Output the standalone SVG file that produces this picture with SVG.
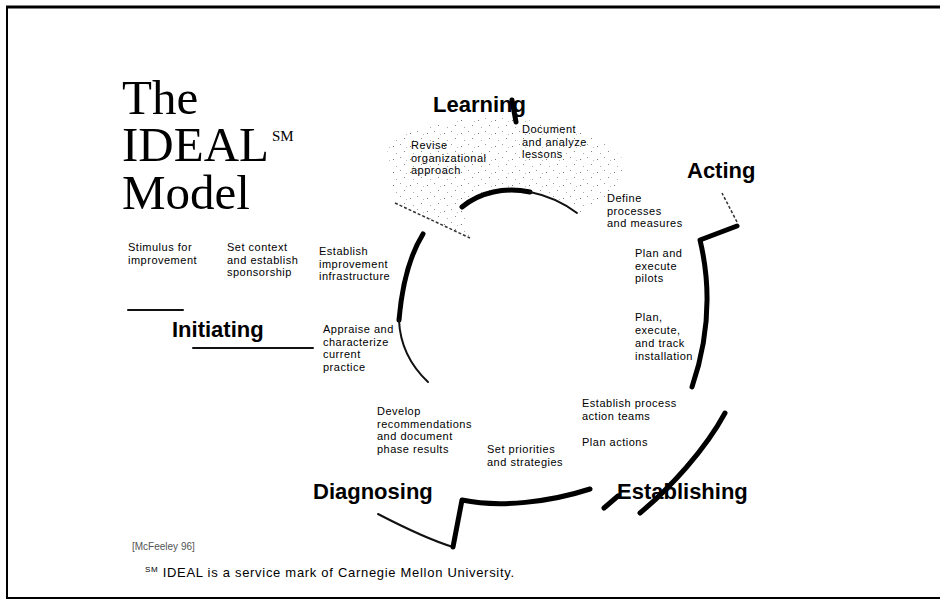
<svg xmlns="http://www.w3.org/2000/svg" width="940" height="608" viewBox="0 0 940 608">
<defs>
<pattern id="stip" width="17" height="13" patternUnits="userSpaceOnUse">
<rect x="2" y="3" width="1" height="1" fill="#777"/>
<rect x="9" y="1" width="1" height="1" fill="#999"/>
<rect x="13" y="8" width="1" height="1" fill="#888"/>
<rect x="5" y="10" width="1" height="1" fill="#aaa"/>
<rect x="15" y="4" width="1" height="1" fill="#bbb"/>
</pattern>
</defs>
<style>
.serif{font-family:"Liberation Serif","Times New Roman",serif;fill:#000}
.lbl{font-family:"Liberation Sans",Arial,sans-serif;font-size:11px;letter-spacing:0.5px;fill:#000}
.cite{font-family:"Liberation Sans",Arial,sans-serif;font-size:10px;fill:#555}
.foot{font-family:"Liberation Sans",Arial,sans-serif;font-size:13px;letter-spacing:0.7px;fill:#000}
.ph{font-family:"Liberation Sans",Arial,sans-serif;font-size:22px;font-weight:bold;fill:#000}
.thick{fill:none;stroke:#000;stroke-width:5;stroke-linecap:round;stroke-linejoin:round}
.thin{fill:none;stroke:#111;stroke-width:2;stroke-linecap:round}
.dash{fill:none;stroke:#333;stroke-width:1.5;stroke-dasharray:3 2}
</style>
<rect width="940" height="608" fill="#fff"/>
<g id="frame" fill="none" stroke="#000">
<line x1="6" y1="7" x2="940" y2="7" stroke-width="3"/>
<line x1="7" y1="7" x2="7" y2="599" stroke-width="2"/>
<line x1="6" y1="598" x2="940" y2="598" stroke-width="2"/>
</g>
<g id="title">
<text class="serif" x="122" y="114" font-size="49">The</text>
<text class="serif" x="122" y="161" font-size="49">IDEAL</text>
<text class="serif" x="272" y="141" font-size="15">SM</text>
<text class="serif" x="122" y="209" font-size="49">Model</text>
</g>
<g id="connectors">
<path d="M386,140 C410,126 450,118 500,118 C550,120 600,132 622,158 C628,180 610,200 580,212 C560,198 540,190 515,190 C490,190 470,200 462,207 L470,238 L395,203 Z" fill="url(#stip)"/>
<path class="dash" d="M395,203 L470,238"/>
<path class="thick" d="M462,207 C480,192 505,187 530,192"/>
<path class="thin" stroke-width="2.5" d="M530,192 C550,196 565,204 577,213"/>
<path class="thick" stroke-width="3.5" d="M512,100 L516,122"/>
<path class="thick" d="M423,234 C410,255 402,285 399,320"/>
<path class="thin" d="M399,320 C400,345 410,365 428,382"/>
<path class="thin" d="M378,514 C405,528 430,540 453,547"/>
<path class="thick" d="M453,547 L462,500 C500,508 550,502 590,489"/>
<path class="thick" stroke-width="6" d="M604,508 L618,496"/>
<path class="thick" d="M640,513 C670,488 705,450 725,413"/>
<path class="thick" d="M692,387 C708,340 712,290 700,240 L737,226"/>
<path class="dash" d="M737,222 L722,193"/>
<line class="thin" stroke-width="2.5" x1="128" y1="310" x2="183" y2="310"/>
<line class="thin" stroke-width="3" x1="193" y1="348" x2="313" y2="348"/>
</g>
<g id="learning"><text class="ph" x="433" y="112">Learning</text></g>
<g id="acting"><text class="ph" x="687" y="178">Acting</text></g>
<g id="initiating"><text class="ph" x="172" y="337">Initiating</text></g>
<g id="diagnosing"><text class="ph" x="313" y="499">Diagnosing</text></g>
<g id="establishing"><text class="ph" x="617" y="499">Establishing</text></g>
<g id="stimulus"><text class="lbl" x="128" y="251">Stimulus for<tspan x="128" dy="12.7">improvement</tspan></text></g>
<g id="set-context"><text class="lbl" x="227" y="251">Set context<tspan x="227" dy="12.7">and establish</tspan><tspan x="227" dy="12.7">sponsorship</tspan></text></g>
<g id="infrastructure"><text class="lbl" x="319" y="255">Establish<tspan x="319" dy="12.7">improvement</tspan><tspan x="319" dy="12.7">infrastructure</tspan></text></g>
<g id="appraise"><text class="lbl" x="323" y="333">Appraise and<tspan x="323" dy="12.7">characterize</tspan><tspan x="323" dy="12.7">current</tspan><tspan x="323" dy="12.7">practice</tspan></text></g>
<g id="revise"><text class="lbl" x="411" y="149">Revise<tspan x="411" dy="12.7">organizational</tspan><tspan x="411" dy="12.7">approach</tspan></text></g>
<g id="document"><text class="lbl" x="522" y="133">Document<tspan x="522" dy="12.7">and analyze</tspan><tspan x="522" dy="12.7">lessons</tspan></text></g>
<g id="define"><text class="lbl" x="607" y="202">Define<tspan x="607" dy="12.7">processes</tspan><tspan x="607" dy="12.7">and measures</tspan></text></g>
<g id="pilots"><text class="lbl" x="635" y="257">Plan and<tspan x="635" dy="12.7">execute</tspan><tspan x="635" dy="12.7">pilots</tspan></text></g>
<g id="installation"><text class="lbl" x="635" y="321">Plan,<tspan x="635" dy="13">execute,</tspan><tspan x="635" dy="13">and track</tspan><tspan x="635" dy="13">installation</tspan></text></g>
<g id="teams"><text class="lbl" x="582" y="407">Establish process<tspan x="582" dy="12.7">action teams</tspan></text></g>
<g id="plan-actions"><text class="lbl" x="582" y="446">Plan actions</text></g>
<g id="develop"><text class="lbl" x="377" y="415">Develop<tspan x="377" dy="12.7">recommendations</tspan><tspan x="377" dy="12.7">and document</tspan><tspan x="377" dy="12.7">phase results</tspan></text></g>
<g id="priorities"><text class="lbl" x="487" y="453">Set priorities<tspan x="487" dy="12.7">and strategies</tspan></text></g>
<g id="citation"><text class="cite" x="132" y="550">[McFeeley 96]</text></g>
<g id="footer"><text class="foot" x="145" y="577"><tspan style="font-size:8px" dy="-5">SM</tspan><tspan dy="5"> IDEAL is a service mark of Carnegie Mellon University.</tspan></text></g>
</svg>
